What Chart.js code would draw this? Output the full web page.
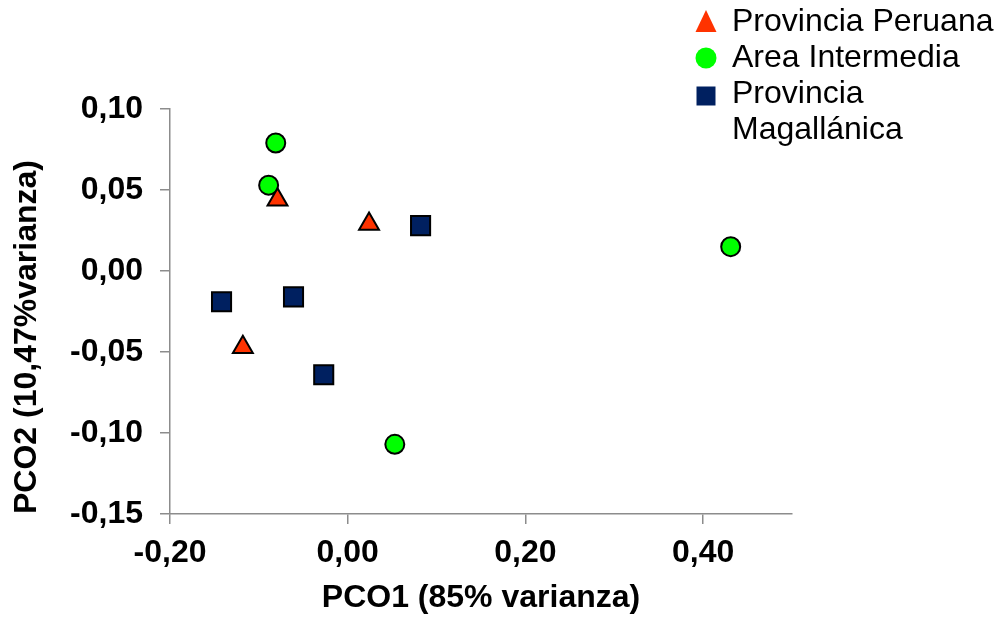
<!DOCTYPE html>
<html>
<head>
<meta charset="utf-8">
<script src="https://cdn.jsdelivr.net/npm/chart.js@4.4.0/dist/chart.umd.min.js"></script>
<style>
  html, body { margin: 0; padding: 0; background: #fff; }
  #wrap { position: relative; width: 998px; height: 620px; }
</style>
</head>
<body>
<div id="wrap"><canvas id="pco-chart"></canvas></div>
<script>
// PCO scores
const peruanaX = [-0.079, 0.024, -0.118];
const peruanaY = [0.044, 0.029, -0.047];
const intermediaX = [-0.081, -0.089, 0.431, 0.053];
const intermediaY = [0.079, 0.053, 0.015, -0.107];
const magallanicaX = [-0.142, -0.061, -0.027, 0.082];
const magallanicaY = [-0.019, -0.016, -0.064, 0.028];

const seriesNames = ['Provincia Peruana', 'Area Intermedia', 'Provincia Magallánica'];
// legend wraps the last name on two lines
const legendLines = [['Provincia Peruana'], ['Area Intermedia'], ['Provincia', 'Magallánica']];

const xTicks = [-0.2, 0, 0.2, 0.4];
const yTicks = [-0.15, -0.1, -0.05, 0, 0.05, 0.1];

const AXIS_GREY = '#8c8c8c';
const FONT = '"Liberation Sans", Arial, sans-serif';

function toPoints(xs, ys) {
    return xs.map((x, i) => ({x: x, y: ys[i]}));
}

function fmt(v) {
    if (Math.abs(v) < 1e-9) v = 0;
    return v.toFixed(2).replace('.', ',');
}

function drawMarker(ctx, style, x, y, color) {
    ctx.fillStyle = color;
    ctx.beginPath();
    if (style === 'triangle') {
        ctx.moveTo(x, y - 12);
        ctx.lineTo(x + 10.5, y + 10);
        ctx.lineTo(x - 10.5, y + 10);
        ctx.closePath();
    } else if (style === 'circle') {
        ctx.arc(x, y, 10.5, 0, Math.PI * 2);
    } else {
        ctx.rect(x - 9.5, y - 7.5, 19, 19);
    }
    ctx.fill();
}

const sideLegend = {
    id: 'sideLegend',
    afterDraw(chart) {
        const ctx = chart.ctx;
        ctx.save();
        ctx.font = '32px ' + FONT;
        ctx.textBaseline = 'middle';
        ctx.textAlign = 'left';
        let y = 22;
        chart.data.datasets.forEach((ds, i) => {
            drawMarker(ctx, ds.pointStyle, 706, y, ds.backgroundColor);
            ctx.fillStyle = '#000';
            legendLines[i].forEach(line => {
                ctx.fillText(line, 732, y);
                y += 36;
            });
        });
        ctx.restore();
    }
};

function axisStyle(ticks) {
    return {
        type: 'linear',
        afterBuildTicks: scale => { scale.ticks = ticks.map(v => ({value: v})); },
        border: {display: true, color: AXIS_GREY, width: 1.5},
        grid: {drawOnChartArea: false, drawTicks: true, tickLength: 10, color: AXIS_GREY, lineWidth: 1.5},
        ticks: {
            color: '#000',
            font: {family: FONT, size: 32, weight: 'bold'},
            callback: v => fmt(v)
        }
    };
}

const xAxis = axisStyle(xTicks);
xAxis.min = -0.2;
xAxis.max = 0.5;
xAxis.ticks.padding = 10;
xAxis.afterFit = scale => { scale.height = 106; };
xAxis.title = {
    display: true,
    text: 'PCO1 (85% varianza)',
    color: '#000',
    font: {family: FONT, size: 32, weight: 'bold'},
    padding: {top: 0, bottom: 3}
};

const yAxis = axisStyle(yTicks);
yAxis.min = -0.15;
yAxis.max = 0.1;
yAxis.ticks.padding = 17;
yAxis.afterFit = scale => { scale.width = 170; };
yAxis.title = {
    display: true,
    text: 'PCO2 (10,47%varianza)',
    align: 'start',
    color: '#000',
    font: {family: FONT, size: 32, weight: 'bold'},
    padding: {top: 8, bottom: 0}
};

new Chart(document.getElementById('pco-chart'), {
    type: 'scatter',
    data: {
        datasets: [{
            label: seriesNames[0],
            data: toPoints(peruanaX, peruanaY),
            pointStyle: 'triangle',
            pointRadius: 11.5,
            backgroundColor: '#ff3300',
            borderColor: '#000',
            borderWidth: 2
        }, {
            label: seriesNames[1],
            data: toPoints(intermediaX, intermediaY),
            pointStyle: 'circle',
            pointRadius: 9.5,
            backgroundColor: '#00ff00',
            borderColor: '#000',
            borderWidth: 2
        }, {
            label: seriesNames[2],
            data: toPoints(magallanicaX, magallanicaY),
            pointStyle: 'rect',
            pointRadius: 13.5,
            backgroundColor: '#002060',
            borderColor: '#000',
            borderWidth: 2
        }]
    },
    options: {
        responsive: true,
        maintainAspectRatio: false,
        animation: false,
        events: [],
        layout: {padding: {left: 0, top: 109, right: 206, bottom: 0}},
        plugins: {
            legend: {display: false},
            tooltip: {enabled: false}
        },
        scales: {x: xAxis, y: yAxis}
    },
    plugins: [sideLegend]
});
</script>
</body>
</html>
